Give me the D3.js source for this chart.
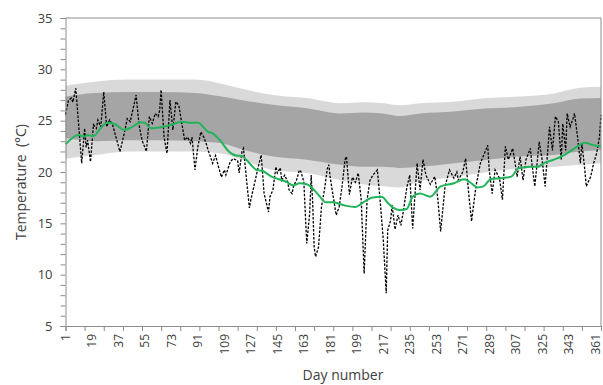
<!DOCTYPE html>
<html><head><meta charset="utf-8">
<script src="https://cdn.jsdelivr.net/npm/d3@7/dist/d3.min.js"></script>
<style>body{margin:0;background:#fff} svg{display:block}</style>
</head><body>
<svg id="c" width="603" height="385"></svg>
<script>
// ---- data ----
const bandDays    = [1, 21, 44, 66, 89, 107, 121, 142, 165, 188, 203, 217, 228, 242, 265, 288, 310, 333, 351, 365];
const outerTop    = [28.4, 28.8, 29.0, 29.0, 29.0, 28.6, 28.1, 27.5, 27.2, 26.7, 26.8, 26.7, 26.5, 26.7, 26.85, 27.2, 27.35, 27.65, 28.2, 28.3];
const innerTop    = [27.35, 27.7, 27.8, 27.8, 27.7, 27.35, 27.0, 26.55, 26.2, 25.7, 25.8, 25.7, 25.45, 25.7, 25.9, 26.2, 26.35, 26.7, 27.15, 27.2];
const innerBottom = [23.3, 23.0, 23.1, 23.1, 23.0, 22.8, 22.2, 21.5, 21.2, 20.7, 20.5, 20.5, 20.4, 20.5, 20.85, 21.2, 21.5, 21.65, 22.0, 22.15];
const outerBottom = [21.3, 21.65, 22.0, 22.0, 22.0, 21.8, 21.2, 20.2, 19.9, 19.2, 18.8, 18.6, 18.5, 19.1, 19.5, 20.0, 20.35, 20.5, 20.7, 20.85];

const days  = [1,3,5,6,8,12,14,15,16,18,20,22,23,25,27,29,31,33,38,41,43,45,49,51,53,56,58,60,62,64,65,66,68,70,71,72,74,76,78,82,84,86,87,89,91,93,95,97,
  98,101,103,105,107,109,110,113,115,118,119,121,122,124,126,127,130,132,134,135,136,139,140,142,144,145,147,148,150,152,153,155,156,158,160,161,163,164,165,167,168,169,170,171,173,175,177,179,180,181,183,185,187,189,191,192,
  194,196,198,200,202,204,206,208,210,213,214,215,217,219,220,222,223,225,227,229,231,233,235,237,240,242,244,246,249,252,254,256,259,262,265,267,268,271,273,275,277,280,283,288,289,291,293,296,298,300,302,305,307,308,310,312,314,317,318,320,323,325,327,330,332,334,336,338,339,341,342,344,346,347,349,351,352,354,355,358,360,362,364,365];
const temps = [25.6,27.0,27.2,26.8,28.15,20.85,24.25,22.4,23.1,21.0,24.6,24.25,25.07,24.4,27.8,24.4,25.07,24.6,21.98,23.8,25.2,24.9,27.5,24.6,23.1,22.0,25.4,24.74,25.7,25.4,26.0,28.0,23.4,21.8,24.4,27.0,24.1,26.85,26.5,23.1,23.4,22.8,23.4,20.2,22.5,23.9,23.4,22.6,
  22.1,20.85,21.6,20.5,19.5,20.2,19.7,21.0,21.3,21.1,19.9,22.0,22.3,19.3,16.5,17.3,19.2,20.5,21.65,19.8,17.9,16.1,17.6,18.25,20.5,19.9,20.4,19.2,19.7,19.05,18.25,17.9,18.6,19.2,20.2,20.05,19.05,16.0,13.05,16.0,19.7,17.1,12.7,11.75,12.7,16.6,18.25,20.35,20.7,19.4,17.6,15.8,16.6,18.6,21.2,21.5,
  17.8,19.5,19.0,19.9,17.3,10.1,17.3,19.2,19.7,20.2,18.6,17.0,13.4,8.2,14.3,15.3,16.8,14.4,15.8,14.8,16.5,18.5,19.7,14.5,20.85,18.25,21.2,19.7,18.8,19.55,17.5,14.2,18.6,20.2,19.4,20.0,19.2,20.0,21.3,18.0,15.2,18.6,20.85,22.6,20.2,17.9,20.2,19.4,17.3,22.5,21.2,22.3,20.5,19.55,21.5,19.2,21.2,22.3,20.85,18.6,22.95,21.2,18.6,24.4,22.1,25.4,24.9,21.2,24.7,22.1,25.7,24.4,25.2,25.7,23.5,20.85,22.8,20.2,18.6,19.55,20.85,21.8,23.45,25.55];

const smoothDays  = [1,10,14,16,20,24,29,34,41,46,52,55,59,66,73,80,86,91,98,101,106,112,117,121,124,131,135,141,146,151,156,160,165,170,173,178,183,188,192,198,203,209,216,220,224,228,233,237,242,249,256,265,272,276,281,285,290,297,304,309,317,322,326,333,340,347,354,360,365];
const smoothTemps = [22.7,23.6,23.45,23.6,23.5,24.1,24.8,24.7,24.1,24.35,24.84,24.8,24.25,24.35,24.6,24.9,24.8,24.8,23.9,23.77,23.1,22.0,21.6,21.56,21.17,20.2,20.1,19.55,19.3,19.05,18.7,18.9,18.8,18.25,17.76,17.05,17.05,16.85,16.7,16.6,17.0,17.5,17.6,17.0,16.5,16.3,16.4,17.6,17.9,17.6,18.6,18.9,19.3,19.0,18.5,18.6,19.3,19.4,19.55,20.35,20.5,20.5,20.85,21.2,21.65,22.3,22.85,22.6,22.5];

const xLabels   = [1,19,37,55,73,91,109,127,145,163,181,199,217,235,253,271,289,307,325,343,361];
const xTickDays = d3.range(1, 366, 13);
const yLabels   = [5,10,15,20,25,30,35];
const yMinor    = d3.range(5, 36, 1);

// ---- layout ----
const L = 65.5, R = 601, T = 18, B = 326;
const axisColor = "#8c8c8c", textColor = "#404040";
const font = "'Open Sans', 'DejaVu Sans', sans-serif";

const svg = d3.select("#c");
const x = d3.scaleLinear().domain([1, 365]).range([L, R]);
const y = d3.scaleLinear().domain([5, 35]).range([B, T]);

// bands
const band = (lo, hi) => d3.area()
  .x((d, i) => x(bandDays[i])).y0((d, i) => y(lo[i])).y1((d, i) => y(hi[i]))
  .curve(d3.curveMonotoneX);
svg.append("path").datum(bandDays).attr("d", band(outerBottom, outerTop)).attr("fill", "#d9d9d9");
svg.append("path").datum(bandDays).attr("d", band(innerBottom, innerTop)).attr("fill", "#a5a5a5");

// daily line
svg.append("path").datum(days)
  .attr("d", d3.line().x((d) => x(d)).y((d, i) => y(temps[i])))
  .attr("fill", "none").attr("stroke", "#000").attr("stroke-width", 1.3)
  .attr("stroke-dasharray", "2.5,1.5");

// smoothed line
svg.append("path").datum(smoothDays)
  .attr("d", d3.line().x((d) => x(d)).y((d, i) => y(smoothTemps[i])).curve(d3.curveMonotoneX))
  .attr("fill", "none").attr("stroke", "#22b45a").attr("stroke-width", 2);

// frame (top/right)
svg.append("path").attr("d", `M${L},${T}H${R}V${B}`).attr("fill", "none").attr("stroke", axisColor).attr("stroke-width", 1);

// y axis
const yAxis = d3.axisLeft(y).tickValues(yMinor).tickSize(5).tickPadding(8)
  .tickFormat((d) => yLabels.includes(d) ? d : "");
const gy = svg.append("g").attr("transform", `translate(${L},0)`).call(yAxis);
gy.select(".domain").attr("stroke", axisColor);
gy.selectAll(".tick line").attr("stroke", axisColor);
gy.selectAll("text").attr("font-family", font).attr("font-size", 13).attr("fill", textColor);

// x axis
const xAxis = d3.axisBottom(x).tickValues(xTickDays).tickSize(5).tickFormat("");
const gx = svg.append("g").attr("transform", `translate(0,${B})`).call(xAxis);
gx.select(".domain").attr("stroke", axisColor);
gx.selectAll(".tick line").attr("stroke", axisColor);

svg.append("g").selectAll("text").data(xLabels).join("text")
  .attr("transform", (d) => `translate(${x(d) + 0.3},334) rotate(-90)`)
  .attr("text-anchor", "end").attr("dy", "0.35em")
  .attr("font-family", font).attr("font-size", 12).attr("fill", textColor)
  .text((d) => d);

// titles
svg.append("text").attr("x", 343).attr("y", 380).attr("text-anchor", "middle")
  .attr("font-family", font).attr("font-size", 14).attr("fill", textColor).text("Day number");
svg.append("text").attr("transform", "translate(21,182) rotate(-90)").attr("text-anchor", "middle")
  .attr("dy", "0.35em").attr("font-family", font).attr("font-size", 14).attr("fill", textColor)
  .attr("xml:space", "preserve").style("white-space", "pre").text("Temperature  (°C)");
</script>
</body></html>
